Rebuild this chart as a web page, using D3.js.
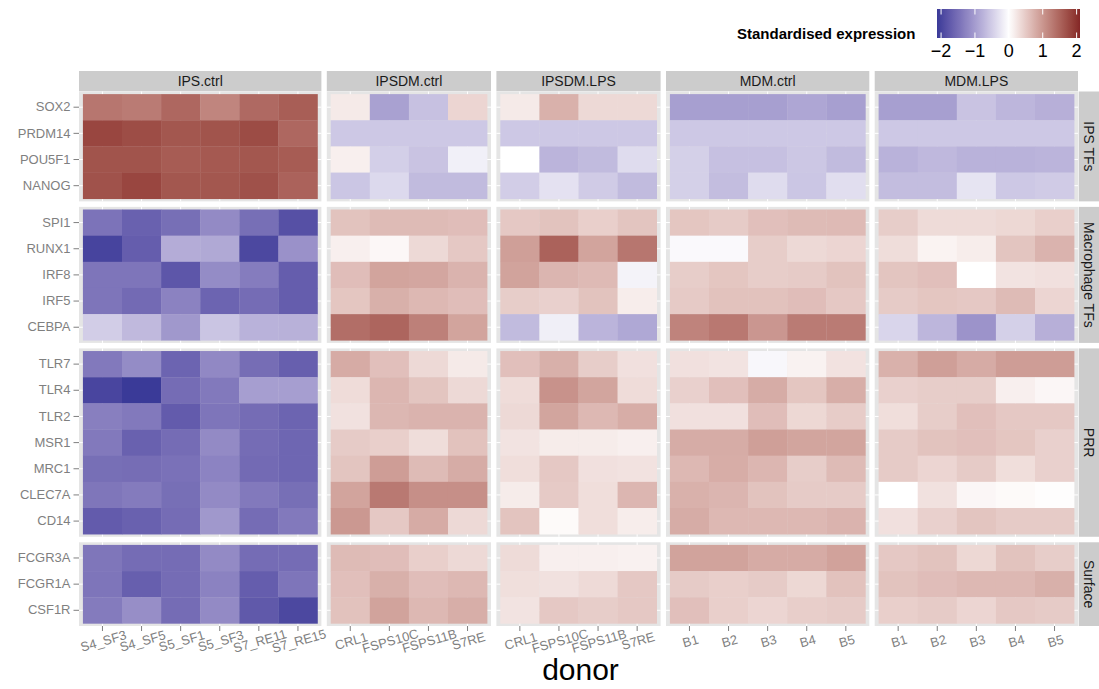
<!DOCTYPE html>
<html>
<head>
<meta charset="utf-8">
<script src="https://cdn.jsdelivr.net/npm/d3@7"></script>
<style>
  html, body { margin: 0; padding: 0; background: #ffffff; }
  svg { display: block; font-family: "Liberation Sans", Arial, Helvetica, sans-serif; }
</style>
</head>
<body>
<svg id="chart" width="1099" height="689"></svg>
<script>
// ---- data -------------------------------------------------------------
const conditions = ["IPS.ctrl", "IPSDM.ctrl", "IPSDM.LPS", "MDM.ctrl", "MDM.LPS"];
const donorsIPS = ["S4_SF3", "S4_SF5", "S5_SF1", "S5_SF3", "S7_RE11", "S7_RE15"];
const donorsIPSDM = ["CRL1", "FSPS10C", "FSPS11B", "S7RE"];
const donorsMDM = ["B1", "B2", "B3", "B4", "B5"];
const conditionDonors = [donorsIPS, donorsIPSDM, donorsIPSDM, donorsMDM, donorsMDM];

const geneGroups = ["IPS TFs", "Macrophage TFs", "PRR", "Surface"];
const genesIPSTF = ["SOX2", "PRDM14", "POU5F1", "NANOG"];
const genesMacTF = ["SPI1", "RUNX1", "IRF8", "IRF5", "CEBPA"];
const genesPRR = ["TLR7", "TLR4", "TLR2", "MSR1", "MRC1", "CLEC7A", "CD14"];
const genesSurface = ["FCGR3A", "FCGR1A", "CSF1R"];
const groupGenes = [genesIPSTF, genesMacTF, genesPRR, genesSurface];

// standardised expression, one row per gene (in the order above), one column per donor
const ipsCtrl = [
  [1.32, 1.27, 1.47, 1.17, 1.45, 1.57],
  [1.80, 1.74, 1.64, 1.67, 1.75, 1.47],
  [1.67, 1.67, 1.59, 1.62, 1.64, 1.59],
  [1.69, 1.80, 1.64, 1.64, 1.70, 1.52],
  [-1.45, -1.65, -1.50, -1.20, -1.50, -1.85],
  [-2.00, -1.70, -0.83, -0.87, -1.95, -1.12],
  [-1.43, -1.43, -1.78, -1.18, -1.35, -1.70],
  [-1.43, -1.55, -1.28, -1.62, -1.53, -1.70],
  [-0.50, -0.70, -1.05, -0.58, -0.77, -0.78],
  [-1.38, -1.18, -1.62, -1.22, -1.52, -1.68],
  [-1.98, -2.12, -1.53, -1.38, -0.98, -0.98],
  [-1.32, -1.38, -1.72, -1.43, -1.53, -1.62],
  [-1.38, -1.65, -1.53, -1.20, -1.53, -1.60],
  [-1.50, -1.52, -1.47, -1.27, -1.55, -1.60],
  [-1.42, -1.36, -1.50, -1.20, -1.38, -1.50],
  [-1.72, -1.66, -1.53, -1.05, -1.53, -1.38],
  [-1.42, -1.53, -1.53, -1.20, -1.53, -1.53],
  [-1.43, -1.68, -1.53, -1.28, -1.70, -1.43],
  [-1.36, -1.15, -1.53, -1.20, -1.75, -1.95]
];
const ipsdmCtrl = [
  [0.20, -0.95, -0.62, 0.39],
  [-0.55, -0.55, -0.55, -0.55],
  [0.15, -0.48, -0.60, -0.15],
  [-0.57, -0.38, -0.68, -0.68],
  [0.57, 0.64, 0.64, 0.62],
  [0.15, 0.07, 0.36, 0.52],
  [0.62, 0.87, 0.85, 0.72],
  [0.54, 0.75, 0.67, 0.62],
  [1.40, 1.49, 1.22, 0.87],
  [0.80, 0.60, 0.36, 0.20],
  [0.33, 0.69, 0.55, 0.36],
  [0.28, 0.68, 0.72, 0.72],
  [0.49, 0.45, 0.32, 0.58],
  [0.55, 0.94, 0.64, 0.79],
  [0.87, 1.29, 1.07, 1.07],
  [0.99, 0.52, 0.80, 0.36],
  [0.64, 0.62, 0.45, 0.36],
  [0.60, 0.75, 0.62, 0.67],
  [0.58, 0.88, 0.67, 0.77]
];
const ipsdmLps = [
  [0.20, 0.74, 0.36, 0.36],
  [-0.55, -0.55, -0.55, -0.55],
  [0.00, -0.75, -0.68, -0.35],
  [-0.50, -0.30, -0.52, -0.68],
  [0.52, 0.57, 0.45, 0.55],
  [0.92, 1.52, 0.87, 1.32],
  [0.88, 0.70, 0.65, -0.12],
  [0.47, 0.44, 0.57, 0.17],
  [-0.68, -0.16, -0.75, -0.88],
  [0.60, 0.75, 0.47, 0.29],
  [0.33, 1.04, 0.86, 0.33],
  [0.36, 0.86, 0.67, 0.78],
  [0.26, 0.18, 0.18, 0.15],
  [0.31, 0.52, 0.29, 0.27],
  [0.18, 0.50, 0.31, 0.69],
  [0.56, 0.05, 0.31, 0.17],
  [0.34, 0.15, 0.15, 0.13],
  [0.30, 0.28, 0.35, 0.52],
  [0.26, 0.52, 0.47, 0.52]
];
const mdmCtrl = [
  [-0.97, -0.97, -0.97, -0.90, -0.97],
  [-0.55, -0.55, -0.55, -0.55, -0.55],
  [-0.47, -0.63, -0.63, -0.56, -0.68],
  [-0.47, -0.66, -0.35, -0.57, -0.33],
  [0.54, 0.49, 0.60, 0.64, 0.65],
  [-0.06, -0.06, 0.47, 0.36, 0.39],
  [0.47, 0.54, 0.47, 0.49, 0.57],
  [0.50, 0.58, 0.58, 0.62, 0.52],
  [1.19, 1.30, 1.00, 1.27, 1.27],
  [0.29, 0.26, -0.08, 0.12, 0.27],
  [0.44, 0.60, 0.79, 0.54, 0.77],
  [0.29, 0.29, 0.62, 0.37, 0.48],
  [0.79, 0.79, 0.92, 0.86, 0.86],
  [0.67, 0.78, 0.69, 0.47, 0.64],
  [0.74, 0.70, 0.57, 0.49, 0.49],
  [0.79, 0.67, 0.67, 0.67, 0.72],
  [0.88, 0.88, 0.80, 0.80, 0.89],
  [0.49, 0.45, 0.49, 0.37, 0.58],
  [0.60, 0.45, 0.39, 0.46, 0.49]
];
const mdmLps = [
  [-0.97, -0.97, -0.60, -0.73, -0.80],
  [-0.55, -0.55, -0.55, -0.55, -0.55],
  [-0.77, -0.71, -0.77, -0.77, -0.75],
  [-0.66, -0.66, -0.27, -0.55, -0.52],
  [0.47, 0.34, 0.34, 0.37, 0.45],
  [0.32, 0.11, 0.17, 0.55, 0.72],
  [0.55, 0.60, 0.00, 0.26, 0.29],
  [0.49, 0.54, 0.52, 0.64, 0.39],
  [-0.42, -0.73, -1.10, -0.47, -0.80],
  [0.74, 0.92, 0.80, 0.94, 0.94],
  [0.44, 0.47, 0.47, 0.15, 0.08],
  [0.31, 0.47, 0.60, 0.52, 0.52],
  [0.49, 0.57, 0.60, 0.54, 0.44],
  [0.49, 0.39, 0.49, 0.31, 0.44],
  [0.00, 0.28, 0.08, 0.05, 0.02],
  [0.29, 0.44, 0.55, 0.49, 0.49],
  [0.52, 0.57, 0.37, 0.57, 0.47],
  [0.57, 0.62, 0.67, 0.67, 0.75],
  [0.45, 0.49, 0.39, 0.52, 0.49]
];
const conditionValues = [ipsCtrl, ipsdmCtrl, ipsdmLps, mdmCtrl, mdmLps];

const legendLimits = [-2.12, 2.10];
const legendTicks = [-2, -1, 0, 1, 2];

// ---- layout -----------------------------------------------------------
const svg = d3.select("#chart");
svg.append("rect").attr("width", 1099).attr("height", 689).attr("fill", "#ffffff");

const area = { left: 79, right: 1078, top: 91.5, bottom: 626 };
const hGap = 5.4, vGap = 5.5;
const stripTop = 71, stripRightX = 1078.7, stripRightW = 21;
const textGrey = "#7f7f7f", panelBg = "#e5e5e5", stripBg = "#cccccc";

// panel widths/heights proportional to the number of categories (+0.1 expansion each side)
function splitSpace(start, end, gap, counts) {
  const units = counts.map(n => n + 0.2);
  const total = end - start - gap * (counts.length - 1);
  const per = total / d3.sum(units);
  let pos = start;
  return units.map(u => {
    const seg = [pos, pos + u * per];
    pos += u * per + gap;
    return seg;
  });
}
const colSpans = splitSpace(area.left, area.right, hGap, conditionDonors.map(d => d.length));
const rowSpans = splitSpace(area.top, area.bottom, vGap, groupGenes.map(g => g.length));

const xScales = conditionDonors.map((donors, i) =>
  d3.scaleBand().domain(donors).range(colSpans[i]).paddingInner(0).paddingOuter(0.1));
const yScales = groupGenes.map((genes, j) =>
  d3.scaleBand().domain(genes).range(rowSpans[j]).paddingInner(0).paddingOuter(0.1));

const ext = d3.max(legendLimits, Math.abs);
const color = d3.scaleLinear()
  .domain([-ext, 0, ext])
  .range(["#3a3a98", "#ffffff", "#832424"])
  .interpolate(d3.interpolateLab)
  .clamp(true);

// ---- panels -----------------------------------------------------------
const geneIndex = new Map(groupGenes.flat().map((g, i) => [g, i]));

conditions.forEach((cond, ci) => {
  const x = xScales[ci];
  const [x0, x1] = colSpans[ci];

  // strip on top
  svg.append("rect").attr("x", x0).attr("y", stripTop)
    .attr("width", x1 - x0).attr("height", area.top - stripTop - 0.2)
    .attr("fill", stripBg);
  svg.append("text").attr("x", (x0 + x1) / 2).attr("y", (stripTop + area.top) / 2)
    .attr("text-anchor", "middle").attr("dominant-baseline", "central")
    .attr("font-size", 14).attr("fill", "#1a1a1a").text(cond);

  groupGenes.forEach((genes, gi) => {
    const y = yScales[gi];
    const [y0, y1] = rowSpans[gi];
    const g = svg.append("g");

    g.append("rect").attr("x", x0).attr("y", y0)
      .attr("width", x1 - x0).attr("height", y1 - y0).attr("fill", panelBg);

    // grid lines at category centres
    g.selectAll("line.vx").data(x.domain()).join("line")
      .attr("x1", d => x(d) + x.bandwidth() / 2).attr("x2", d => x(d) + x.bandwidth() / 2)
      .attr("y1", y0).attr("y2", y1).attr("stroke", "#ffffff").attr("stroke-width", 1);
    g.selectAll("line.hy").data(y.domain()).join("line")
      .attr("y1", d => y(d) + y.bandwidth() / 2).attr("y2", d => y(d) + y.bandwidth() / 2)
      .attr("x1", x0).attr("x2", x1).attr("stroke", "#ffffff").attr("stroke-width", 1);

    const cells = [];
    genes.forEach(gene => {
      const row = conditionValues[ci][geneIndex.get(gene)];
      x.domain().forEach((donor, di) => cells.push({ gene, donor, value: row[di] }));
    });
    g.selectAll("rect.tile").data(cells).join("rect")
      .attr("class", "tile")
      .attr("x", d => x(d.donor)).attr("y", d => y(d.gene))
      .attr("width", x.bandwidth() + 0.3).attr("height", y.bandwidth() + 0.3)
      .attr("fill", d => color(d.value));

    // gene axis on the first column
    if (ci === 0) {
      const ax = svg.append("g").attr("transform", `translate(${x0},0)`)
        .call(d3.axisLeft(y).tickSize(5.5).tickSizeOuter(0).tickPadding(3));
      ax.select(".domain").remove();
      ax.selectAll("line").attr("stroke", textGrey).attr("stroke-width", 1);
      ax.selectAll("text").attr("font-size", 13).attr("fill", textGrey)
        .attr("font-family", "Liberation Sans, Arial, sans-serif");
    }
  });

  // donor axis under the bottom row
  const bottom = rowSpans[rowSpans.length - 1][1];
  const axb = svg.append("g").attr("transform", `translate(0,${bottom})`)
    .call(d3.axisBottom(x).tickSize(5).tickSizeOuter(0));
  axb.select(".domain").remove();
  axb.selectAll("line").attr("stroke", textGrey).attr("stroke-width", 1);
  axb.selectAll("text")
    .attr("y", 0).attr("dy", null)
    .attr("text-anchor", "middle").attr("dominant-baseline", "central")
    .attr("transform", "translate(1,15) rotate(-16)")
    .attr("font-size", 13).attr("fill", textGrey)
    .attr("font-family", "Liberation Sans, Arial, sans-serif");
});

// right-hand strips for gene groups
geneGroups.forEach((grp, gi) => {
  const [y0, y1] = rowSpans[gi];
  svg.append("rect").attr("x", stripRightX).attr("y", y0)
    .attr("width", stripRightW).attr("height", y1 - y0).attr("fill", stripBg);
  const cx = stripRightX + 10.5, cy = (y0 + y1) / 2;
  svg.append("text").attr("transform", `translate(${cx},${cy}) rotate(90)`)
    .attr("text-anchor", "middle").attr("dominant-baseline", "central")
    .attr("font-size", 14).attr("fill", "#1a1a1a").text(grp);
});

// axis title
svg.append("text").attr("x", (area.left + area.right) / 2 + 2).attr("y", 680)
  .attr("text-anchor", "middle").attr("font-size", 30).attr("fill", "#000000").text("donor");

// ---- colour bar legend ------------------------------------------------
const legX = d3.scaleLinear().domain(legendLimits).range([937, 1080]);
const barTop = 9, barBottom = 38;
const defs = svg.append("defs");
const grad = defs.append("linearGradient").attr("id", "fillbar")
  .attr("x1", "0%").attr("x2", "100%").attr("y1", "0%").attr("y2", "0%");
d3.range(0, 1.0001, 0.02).forEach(t => {
  const v = legendLimits[0] + t * (legendLimits[1] - legendLimits[0]);
  grad.append("stop").attr("offset", `${t * 100}%`).attr("stop-color", color(v));
});
svg.append("rect").attr("x", legX(legendLimits[0])).attr("y", barTop)
  .attr("width", legX(legendLimits[1]) - legX(legendLimits[0]))
  .attr("height", barBottom - barTop).attr("fill", "url(#fillbar)");
legendTicks.forEach(t => {
  svg.append("line").attr("x1", legX(t)).attr("x2", legX(t))
    .attr("y1", barTop).attr("y2", barTop + 5.5).attr("stroke", "#ffffff").attr("stroke-width", 1);
  svg.append("line").attr("x1", legX(t)).attr("x2", legX(t))
    .attr("y1", barBottom - 5.5).attr("y2", barBottom).attr("stroke", "#ffffff").attr("stroke-width", 1);
  svg.append("text").attr("x", legX(t)).attr("y", 57)
    .attr("text-anchor", "middle").attr("font-size", 18).attr("fill", "#000000")
    .text(t < 0 ? "\u2212" + Math.abs(t) : String(t));
});
svg.append("text").attr("x", 737).attr("y", 39)
  .attr("font-size", 15).attr("font-weight", "bold").attr("fill", "#000000")
  .text("Standardised expression");
</script>
</body>
</html>
